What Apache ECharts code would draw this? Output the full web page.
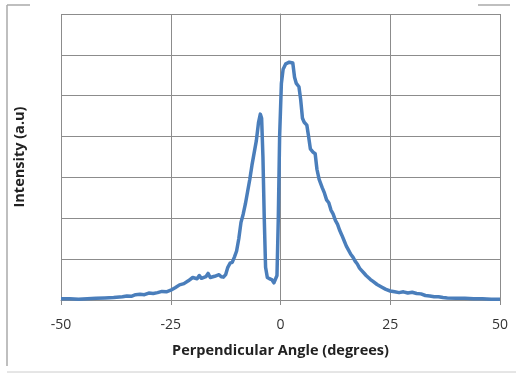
<!DOCTYPE html>
<html>
<head>
<meta charset="utf-8">
<script src="https://cdn.jsdelivr.net/npm/echarts@6/dist/echarts.min.js"></script>
<style>
  html, body { margin: 0; padding: 0; background: #fff; }
  #chart { width: 516px; height: 374px; }
</style>
</head>
<body>
<div id="chart"></div>
<script>
// angle (degrees) and intensity (a.u.)
const angles = [
  -50, -48, -46, -44, -42, -40, -38, -36, -35, -34, -33, -32, -31, -30, -29, -28, -27, -26, -25, -24,
  -23, -22, -21, -20, -19, -18.5, -18, -17, -16.5, -16, -15, -14, -13.5, -13, -12.5, -12, -11.5, -11,
  -10.5, -10, -9.5, -9, -8.5, -8, -7.5, -7, -6.5, -6, -5.5, -5, -4.6, -4.3, -4, -3.7, -3.4, -3, -2.5,
  -2, -1.5, -1.2, -0.8, -0.5, -0.2, 0.2, 0.6, 1.2, 2, 2.8, 3.2, 3.6, 4.2, 4.6, 5, 5.4, 6, 6.4, 6.8,
  7.4, 7.9, 8.3, 8.8, 9.5, 10, 10.5, 11, 11.5, 12, 12.5, 13, 13.5, 14, 14.5, 15, 15.5, 16, 16.5, 17,
  17.5, 18, 18.5, 19, 19.5, 20, 20.5, 21, 22, 23, 24, 25, 26, 27, 28, 29, 30, 31, 32, 33, 34, 35, 36,
  37, 38, 40, 42, 44, 46, 48, 50
];
const intensity = [
  0.03, 0.03, 0.02, 0.03, 0.04, 0.05, 0.06, 0.08, 0.10, 0.09, 0.13, 0.14, 0.13, 0.17, 0.16, 0.18, 0.21, 0.20, 0.24, 0.30,
  0.37, 0.40, 0.47, 0.55, 0.52, 0.60, 0.53, 0.57, 0.65, 0.55, 0.58, 0.62, 0.57, 0.56, 0.62, 0.80, 0.90, 0.92,
  1.05, 1.20, 1.50, 1.90, 2.10, 2.35, 2.65, 2.95, 3.30, 3.60, 3.90, 4.35, 4.55, 4.45, 3.50, 2.00, 0.80, 0.55, 0.52,
  0.50, 0.42, 0.40, 0.60, 2.00, 4.00, 5.30, 5.65, 5.78, 5.82, 5.80, 5.45, 5.30, 5.22, 4.90, 4.45, 4.35, 4.28, 4.00, 3.70,
  3.62, 3.58, 3.20, 2.95, 2.75, 2.62, 2.45, 2.38, 2.20, 2.10, 1.95, 1.85, 1.70, 1.58, 1.45, 1.32, 1.22, 1.12, 1.05, 0.95,
  0.88, 0.78, 0.72, 0.66, 0.60, 0.55, 0.50, 0.46, 0.38, 0.32, 0.26, 0.22, 0.20, 0.18, 0.20, 0.17, 0.19, 0.16, 0.15, 0.11, 0.10, 0.08, 0.08,
  0.06, 0.05, 0.04, 0.04, 0.03, 0.03, 0.02, 0.02
];

const chart = echarts.init(document.getElementById('chart'));
const font = '"Open Sans", "Liberation Sans", sans-serif';
const gridColor = '#8c8c8c';

chart.setOption({
  animation: false,
  grid: { left: 61, right: 16, top: 14, bottom: 74 },
  xAxis: {
    type: 'value',
    min: -50,
    max: 50,
    interval: 25,
    name: 'Perpendicular Angle (degrees)',
    nameLocation: 'middle',
    nameGap: 43,
    nameTextStyle: { fontFamily: font, fontSize: 14.5, fontWeight: 'bold', color: '#222' },
    axisLine: { lineStyle: { color: gridColor, width: 1 } },
    axisTick: { show: true, length: 5, lineStyle: { color: gridColor } },
    axisLabel: { fontFamily: font, fontSize: 14, color: '#333', margin: 18 },
    splitLine: { show: true, lineStyle: { color: gridColor, width: 1 } }
  },
  yAxis: {
    type: 'value',
    min: 0,
    max: 7,
    interval: 1,
    name: 'Intensity (a.u)',
    nameLocation: 'middle',
    nameGap: 34,
    nameTextStyle: { fontFamily: font, fontSize: 14.5, fontWeight: 'bold', color: '#222' },
    axisLine: { show: true, lineStyle: { color: gridColor, width: 1 } },
    axisTick: { show: false },
    axisLabel: { show: false },
    splitLine: { show: true, lineStyle: { color: gridColor, width: 1 } }
  },
  graphic: [
    { type: 'line', shape: { x1: 7, y1: 5, x2: 30, y2: 5 }, style: { stroke: '#aaa', lineWidth: 1.5 } },
    { type: 'line', shape: { x1: 7, y1: 5, x2: 7, y2: 366 }, style: { stroke: '#aaa', lineWidth: 1.5 } },
    { type: 'line', shape: { x1: 7, y1: 372, x2: 516, y2: 372 }, style: { stroke: '#ccc', lineWidth: 1 } },
    { type: 'line', shape: { x1: 478, y1: 5, x2: 510, y2: 5 }, style: { stroke: '#aaa', lineWidth: 1.5 } }
  ],
  series: [
    {
      type: 'line',
      data: angles.map((a, i) => [a, intensity[i]]),
      showSymbol: false,
      lineStyle: { color: '#4a7ebb', width: 3.5, join: 'round' }
    }
  ]
});
</script>
</body>
</html>
